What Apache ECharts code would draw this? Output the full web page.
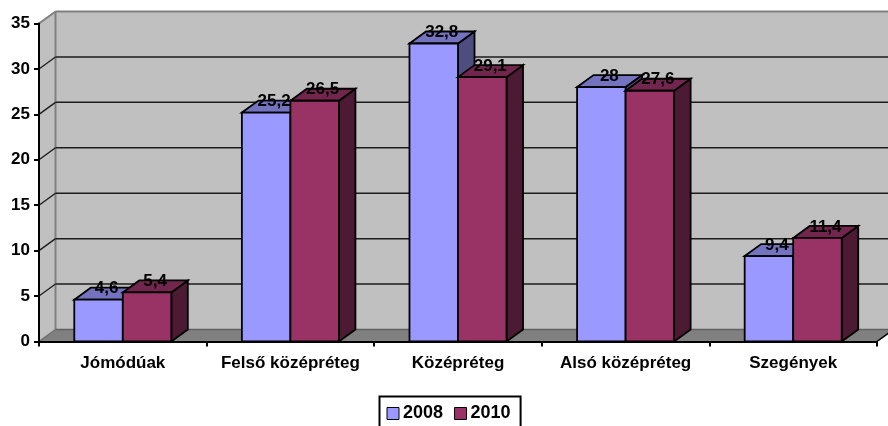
<!DOCTYPE html>
<html>
<head>
<meta charset="utf-8">
<style>html,body{margin:0;padding:0;background:#fff}#c{width:888px;height:426px}</style>
<script src="https://cdn.jsdelivr.net/npm/echarts@6/dist/echarts.min.js"></script>
</head>
<body>
<div id="c"></div>
<script>
const categories = ['Jómódúak', 'Felső középréteg', 'Középréteg', 'Alsó középréteg', 'Szegények'];
const values2008 = [4.6, 25.2, 32.8, 28, 9.4];
const values2010 = [5.4, 26.5, 29.1, 27.6, 11.4];
const gridValues = [5, 10, 15, 20, 25, 30];

const DX = 16.5, DY = 12;
const FONT = '"Liberation Sans", Arial, sans-serif';
const chart = echarts.init(document.getElementById('c'), null, {renderer: 'canvas'});

function poly(points, fill, z2, stroke, lw) {
  return {type: 'polygon', z2: z2, shape: {points: points},
    style: {fill: fill, stroke: stroke || '#000', lineWidth: lw === undefined ? 1.8 : lw, lineJoin: 'miter'}};
}
function line(a, b, stroke, lw) {
  return {type: 'line', z2: 1, shape: {x1: a[0], y1: a[1], x2: b[0], y2: b[1]},
    style: {stroke: stroke, lineWidth: lw, fill: null}};
}
function renderWalls(params, api) {
  const lb = api.coord([0, 0]);
  const cw = api.size([1, 0])[0];
  const L = lb[0] - cw / 2, R = L + cw * categories.length, B = lb[1], T = api.coord([0, 35])[1];
  const kids = [
    poly([[L + DX, T - DY], [R + DX, T - DY], [R + DX, B - DY], [L + DX, B - DY]], '#c0c0c0', 0, 'none', 0),
    poly([[L, T], [L + DX, T - DY], [L + DX, B - DY], [L, B]], '#c0c0c0', 0, 'none', 0),
    poly([[L, B], [L + DX, B - DY], [R + DX, B - DY], [R, B]], '#808080', 0, 'none', 0),
    line([L + DX, T - DY], [R + DX, T - DY], '#808080', 2),
    line([L, T], [L + DX, T - DY], '#808080', 2),
    line([L + DX, T - DY], [L + DX, B - DY], '#808080', 2),
    line([L, B], [L + DX, B - DY], '#6e6e6e', 1.5),
    line([R, B], [R + DX, B - DY], '#000', 1.5),
    line([L + DX, B - DY], [R + DX, B - DY], '#606060', 1.5)
  ];
  gridValues.forEach(function (v) {
    const y = api.coord([0, v])[1];
    kids.push(line([L + DX, y - DY], [R + DX, y - DY], '#1c1c1c', 1.5));
    kids.push(line([L, y], [L + DX, y - DY], '#1c1c1c', 1.3));
  });
  return {type: 'group', children: kids};
}
function makeBar(front, top, side, slot) {
  return function (params, api) {
    const c = api.coord([api.value(0), api.value(1)]);
    const b = api.coord([api.value(0), 0]);
    const cw = api.size([1, 0])[0];
    const w = cw * 0.2895;
    const x0 = c[0] - w + slot * w, x1 = x0 + w, yT = c[1], yB = b[1];
    const z = 2 + slot * 2;
    const label = String(api.value(1)).replace('.', ',');
    return {type: 'group', children: [
      poly([[x1, yT], [x1 + DX, yT - DY], [x1 + DX, yB - DY], [x1, yB]], side, z),
      poly([[x0, yT], [x0 + DX, yT - DY], [x1 + DX, yT - DY], [x1, yT]], top, z),
      poly([[x0, yT], [x1, yT], [x1, yB], [x0, yB]], front, z + 1),
      {type: 'text', z2: 20, style: {
        x: (x0 + x1) / 2 + 8, y: yT - 11, text: label, fill: '#000',
        font: 'bold 17px ' + FONT, textAlign: 'center', textVerticalAlign: 'middle'}}
    ]};
  };
}
function pairs(vals) { return vals.map(function (v, i) { return [i, v]; }); }

chart.setOption({
  animation: false,
  backgroundColor: '#fff',
  grid: {left: 39, right: 11, top: 23.5, bottom: 84.5, containLabel: false},
  legend: {
    left: 379.5, top: 396.5,
    padding: [8, 10, 8, 7],
    backgroundColor: '#fff', borderColor: '#000', borderWidth: 2, borderRadius: 0,
    itemWidth: 12, itemHeight: 12, itemGap: 11,
    textStyle: {fontFamily: FONT, fontWeight: 'bold', fontSize: 18, color: '#000', padding: [0, 0, 0, -1]},
    data: [
      {name: '2008', icon: 'rect', itemStyle: {color: '#9999ff', borderColor: '#000', borderWidth: 1}},
      {name: '2010', icon: 'rect', itemStyle: {color: '#993366', borderColor: '#000', borderWidth: 1}}
    ]
  },
  xAxis: {
    type: 'category', data: categories, boundaryGap: true, z: 1,
    axisLine: {lineStyle: {color: '#000', width: 2}},
    axisTick: {show: true, alignWithLabel: false, length: 5, lineStyle: {color: '#000', width: 2}},
    axisLabel: {interval: 0, margin: 13, fontFamily: FONT, fontWeight: 'bold', fontSize: 17, color: '#000'},
    splitLine: {show: false}
  },
  yAxis: {
    type: 'value', min: 0, max: 35, interval: 5, z: 1,
    axisLine: {show: true, lineStyle: {color: '#000', width: 2}},
    axisTick: {show: true, length: 5, lineStyle: {color: '#000', width: 2}},
    axisLabel: {margin: 9, fontFamily: FONT, fontWeight: 'bold', fontSize: 17, color: '#000'},
    splitLine: {show: false}
  },
  series: [
    {type: 'custom', name: 'walls', z: 0, silent: true, coordinateSystem: 'cartesian2d',
      renderItem: renderWalls, encode: {x: 0, y: 1}, data: [[0, 0]]},
    {type: 'custom', name: '2008', z: 2, coordinateSystem: 'cartesian2d', itemStyle: {color: '#9999ff'},
      renderItem: makeBar('#9999ff', '#7373bf', '#4d4d80', 0), encode: {x: 0, y: 1}, data: pairs(values2008)},
    {type: 'custom', name: '2010', z: 2, coordinateSystem: 'cartesian2d', itemStyle: {color: '#993366'},
      renderItem: makeBar('#993366', '#73264d', '#4d1a33', 1), encode: {x: 0, y: 1}, data: pairs(values2010)}
  ]
});
</script>
</body>
</html>
